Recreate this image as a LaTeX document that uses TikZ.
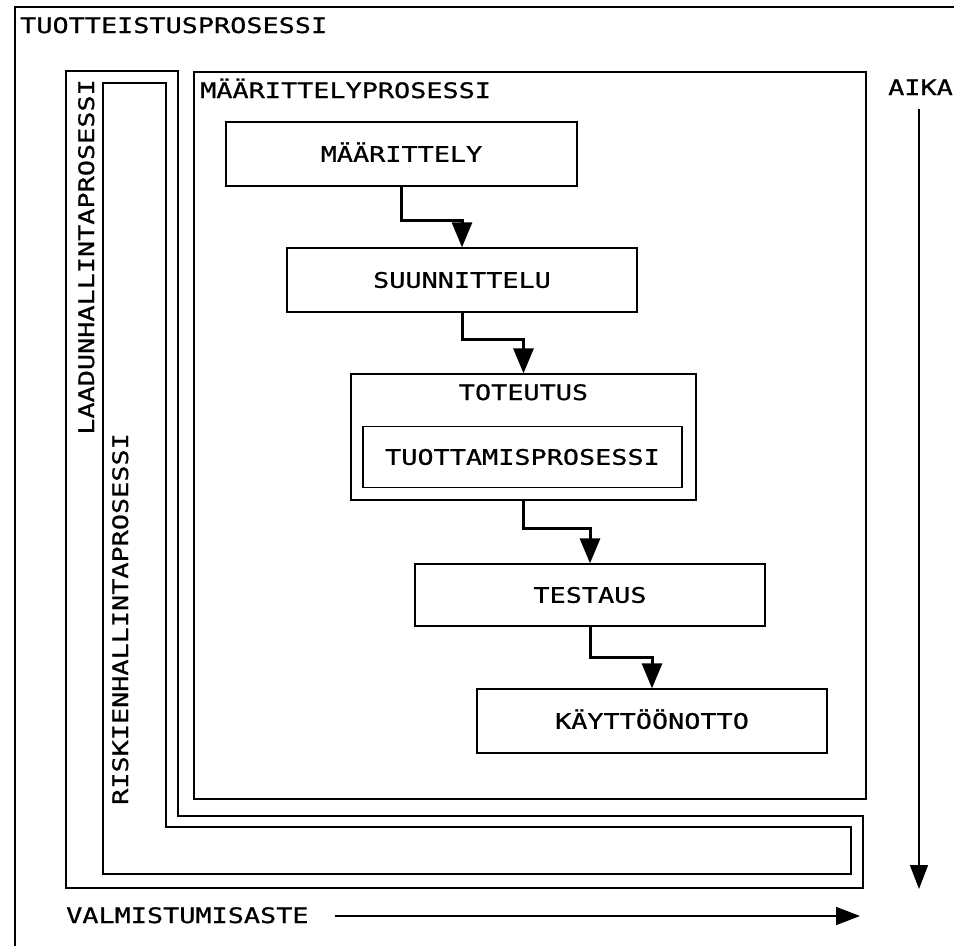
\documentclass[tikz,border=0pt]{standalone}
\usepackage{fontspec}
\usetikzlibrary{arrows.meta,calc}
\newfontfamily\lblfont[FakeStretch=1.26,FakeBold=0.8]{DejaVu Sans Mono}
\newcommand\mylbl{\lblfont\fontsize{21.3}{24}\selectfont}
\tikzset{
  frame/.style={draw, line width=1.3pt},
  stepbox/.style={frame, inner sep=0pt, text height=15.5pt, text depth=0pt, font=\mylbl},
  lbl/.style={font=\mylbl, inner sep=0pt},
  conn/.style={line width=3pt, -{Triangle[width=20pt,length=25pt]}},
  axis/.style={line width=1.5pt, -{Triangle[width=18pt,length=24pt]}},
}
\begin{document}
\begin{tikzpicture}[x=1pt,y=-1pt]
\useasboundingbox (0,0) rectangle (954,946);
% outer frame (TUOTTEISTUSPROSESSI)
\draw[line width=1.3pt] (954,7) -- (15,7) -- (15,946);
\node[lbl, anchor=base west] (tuot) at (20,33) {TUOTTEISTUSPROSESSI};
% L-shaped frames
\draw[frame] (66,71) -- (178,71) -- (178,816) -- (863,816) -- (863,888) -- (66,888) -- cycle;
\draw[frame] (103,83) -- (166,83) -- (166,827) -- (851,827) -- (851,874) -- (103,874) -- cycle;
\node[lbl, rotate=90, anchor=base east] (laatu) at (94,79) {LAADUNHALLINTAPROSESSI};
\node[lbl, rotate=90, anchor=base west] (riski) at (128,805) {RISKIENHALLINTAPROSESSI};
% Määrittelyprosessi frame
\node[frame, minimum width=672pt, minimum height=727pt, inner sep=0pt] (mp) at (530,435.5) {};
\node[lbl, anchor=base west] (mpl) at (200,98) {MÄÄRITTELYPROSESSI};
% steps
\node[stepbox, minimum width=351pt, minimum height=64pt] (m) at (401.5,154) {MÄÄRITTELY};
\node[stepbox, minimum width=350pt, minimum height=64pt] (s) at (462,280) {SUUNNITTELU};
\node[frame, minimum width=345pt, minimum height=126pt, inner sep=0pt] (t) at (523.5,437) {};
\node[lbl, anchor=base] (tl) at (523.5,400) {TOTEUTUS};
\node[stepbox, minimum width=319pt, minimum height=61pt] (tp) at (522.5,457) {TUOTTAMISPROSESSI};
\node[stepbox, minimum width=350pt, minimum height=62pt] (te) at (590,595) {TESTAUS};
\node[stepbox, minimum width=350pt, minimum height=64pt] (k) at (652,721) {KÄYTTÖÖNOTTO};
% connectors
\draw[conn] (m.south) |- ($(m.south)!.55!(s.north)$) -| (s.north);
\draw[conn] (s.south) |- ($(s.south)!.45!(t.north)$) -| (t.north);
\draw[conn] (t.south) |- ($(t.south)!.45!(te.north)$) -| (te.north);
\draw[conn] (te.south) |- ($(te.south)!.5!(k.north)$) -| (k.north);
% axes
\node[lbl, anchor=base west] (aika) at (888,95) {AIKA};
\coordinate (as) at (919,109);
\coordinate (ae) at (919,889);
\draw[axis] (as) -- (ae);
\node[lbl, anchor=base west] (valm) at (66,923) {VALMISTUMISASTE};
\coordinate (vs) at (335,916);
\coordinate (ve) at (860,916);
\draw[axis] (vs) -- (ve);
\end{tikzpicture}
\end{document}
